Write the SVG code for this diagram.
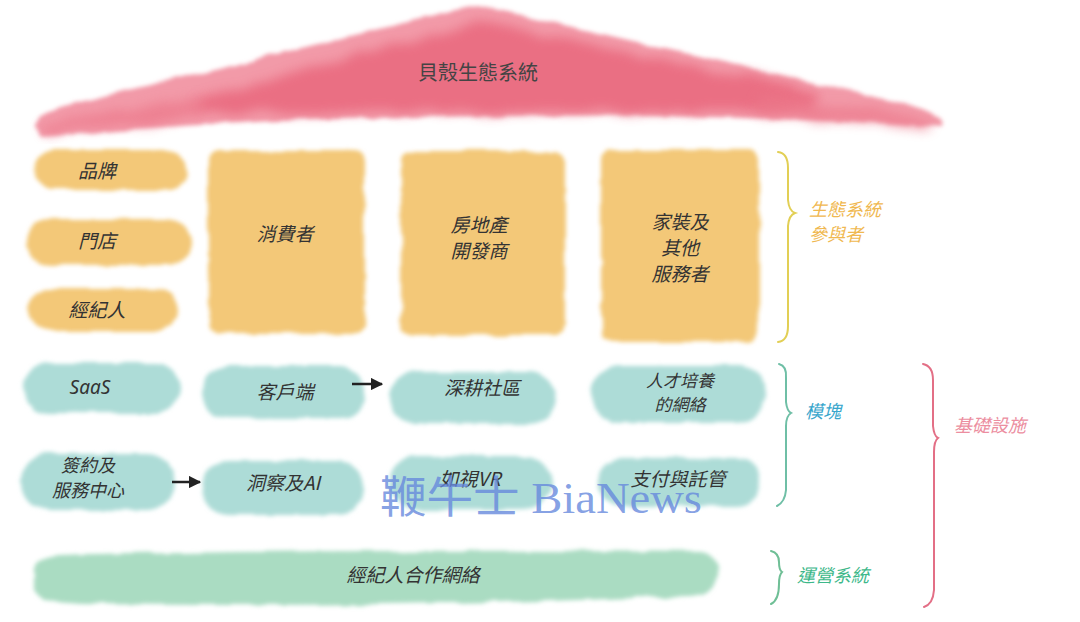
<svg xmlns="http://www.w3.org/2000/svg" width="1080" height="622" viewBox="0 0 1080 622">
  <defs>
    <filter id="wc" x="-10%" y="-20%" width="120%" height="140%">
      <feTurbulence type="fractalNoise" baseFrequency="0.035" numOctaves="3" seed="3" result="n"/>
      <feDisplacementMap in="SourceGraphic" in2="n" scale="7" xChannelSelector="R" yChannelSelector="G" result="d"/>
      <feGaussianBlur in="d" stdDeviation="2"/>
    </filter>
    <filter id="soft" x="-10%" y="-30%" width="120%" height="160%">
      <feTurbulence type="fractalNoise" baseFrequency="0.03" numOctaves="2" seed="7" result="n"/>
      <feDisplacementMap in="SourceGraphic" in2="n" scale="14" xChannelSelector="R" yChannelSelector="G" result="d"/>
      <feGaussianBlur in="d" stdDeviation="6"/>
    </filter>
    <marker id="arr" viewBox="0 0 10 10" refX="9" refY="5" markerWidth="5" markerHeight="5" orient="auto">
      <path d="M0,0 L10,5 L0,10 Z" fill="#222"/>
    </marker>
    <style>
      .t { font-family: "Noto Sans CJK TC", "Noto Sans CJK SC", "Noto Sans", sans-serif; font-style: italic; font-size: 19px; fill: #333; text-anchor: middle; }
      .lbl { font-family: "Noto Sans CJK TC", "Noto Sans CJK SC", sans-serif; font-style: italic; font-size: 18px; text-anchor: start; }
      .yel { fill: #f3c878; }
      .teal { fill: #addcd7; }
      .brace { fill: none; stroke-width: 2; stroke-linecap: round; }
      .arrow { stroke: #222; stroke-width: 2.5; fill: none; marker-end: url(#arr); }
    </style>
  </defs>
  <rect width="1080" height="622" fill="#ffffff"/>

  <!-- roof -->
  <g id="roof">
    <path filter="url(#wc)" fill="#f29aa8" d="M35,126 Q36,112 72,104 L478,5 L905,104 Q946,114 941,128 Q720,112 478,116 Q250,118 42,136 Z"/>
    <path filter="url(#soft)" fill="#e9687d" opacity="0.85" d="M195,100 L478,22 L820,92 L810,112 L480,112 L195,114 Z"/>
    <path filter="url(#soft)" fill="#ec7789" opacity="0.7" d="M40,125 L200,96 L200,118 L45,132 Z M760,95 L935,120 L930,128 L760,116 Z"/>
    <text class="t" x="478" y="80" style="font-style:normal;font-size:20px;fill:#444">貝殼生態系統</text>
  </g>

  <!-- yellow participants -->
  <g id="brand">
    <rect class="yel" filter="url(#wc)" x="34" y="150" width="154" height="40" rx="20"/>
    <text class="t" x="97" y="178">品牌</text>
  </g>
  <g id="store">
    <rect class="yel" filter="url(#wc)" x="26" y="219" width="164" height="46" rx="23"/>
    <text class="t" x="97" y="248">門店</text>
  </g>
  <g id="agent">
    <rect class="yel" filter="url(#wc)" x="28" y="289" width="150" height="42" rx="21"/>
    <text class="t" x="97" y="317">經紀人</text>
  </g>
  <g id="consumer">
    <rect class="yel" filter="url(#wc)" x="208" y="151" width="157" height="182" rx="10"/>
    <text class="t" x="285" y="241">消費者</text>
  </g>
  <g id="developer">
    <rect class="yel" filter="url(#wc)" x="401" y="151" width="164" height="184" rx="10"/>
    <text class="t" x="479" y="232">房地產</text>
    <text class="t" x="479" y="258">開發商</text>
  </g>
  <g id="services">
    <rect class="yel" filter="url(#wc)" x="601" y="150" width="158" height="192" rx="10"/>
    <text class="t" x="680" y="229">家裝及</text>
    <text class="t" x="680" y="255">其他</text>
    <text class="t" x="680" y="281">服務者</text>
  </g>

  <!-- teal modules -->
  <g id="saas">
    <rect class="teal" filter="url(#wc)" x="24" y="363" width="156" height="50" rx="25"/>
    <text class="t" x="90" y="394" style="font-family:'Noto Sans',sans-serif">SaaS</text>
  </g>
  <g id="client">
    <rect class="teal" filter="url(#wc)" x="202" y="366" width="164" height="52" rx="26"/>
    <text class="t" x="285" y="399">客戶端</text>
  </g>
  <g id="community">
    <rect class="teal" filter="url(#wc)" x="389" y="372" width="166" height="52" rx="26"/>
    <text class="t" x="482" y="395">深耕社區</text>
  </g>
  <g id="talent">
    <rect class="teal" filter="url(#wc)" x="592" y="366" width="174" height="56" rx="28"/>
    <text class="t" x="680" y="387" style="font-size:17px">人才培養</text>
    <text class="t" x="680" y="411" style="font-size:17px">的網絡</text>
  </g>
  <g id="contract">
    <rect class="teal" filter="url(#wc)" x="21" y="454" width="154" height="56" rx="28"/>
    <text class="t" x="88" y="472" style="font-size:18px">簽約及</text>
    <text class="t" x="88" y="497" style="font-size:18px">服務中心</text>
  </g>
  <g id="insight">
    <rect class="teal" filter="url(#wc)" x="202" y="461" width="162" height="54" rx="27"/>
    <text class="t" x="283" y="490">洞察及AI</text>
  </g>
  <g id="vr">
    <rect class="teal" filter="url(#wc)" x="390" y="456" width="162" height="54" rx="27"/>
    <text class="t" x="470" y="486">如視VR</text>
  </g>
  <g id="payment">
    <rect class="teal" filter="url(#wc)" x="597" y="458" width="164" height="48" rx="24"/>
    <text class="t" x="678" y="486">支付與託管</text>
  </g>

  <!-- operations band -->
  <g id="network">
    <path fill="#aadcc2" filter="url(#wc)" d="M34,572 Q32,558 60,556 Q300,548 700,552 Q720,556 718,575 Q716,594 690,596 Q400,608 80,604 Q40,602 34,590 Z"/>
    <text class="t" x="413" y="582">經紀人合作網絡</text>
  </g>

  <!-- connectors -->
  <g id="connectors">
    <line class="arrow" x1="352" y1="384" x2="382" y2="384"/>
    <line class="arrow" x1="172" y1="482" x2="200" y2="482"/>
  </g>

  <!-- braces and labels -->
  <g id="brace-participants">
    <path class="brace" stroke="#e2cf55" d="M778,152 Q788,153 788,168 L788,200 Q789,211 795,213 Q789,215 788,226 L788,326 Q788,341 778,342"/>
    <text class="lbl" fill="#f0b850" x="809" y="216">生態系統</text>
    <text class="lbl" fill="#f0b850" x="809" y="241">參與者</text>
  </g>
  <g id="brace-modules">
    <path class="brace" stroke="#6fbfa6" d="M779,364 Q787,366 786,378 L786,402 Q787,411 791,413 Q786,416 786,426 L786,490 Q785,502 777,506"/>
    <text class="lbl" fill="#38a6cc" x="805" y="418">模塊</text>
  </g>
  <g id="brace-ops">
    <path class="brace" stroke="#6fbf96" d="M771,551 Q779,553 779,562 Q779,570 782,572 Q779,575 779,584 Q779,600 771,604"/>
    <text class="lbl" fill="#3db88a" x="797" y="582">運營系統</text>
  </g>
  <g id="brace-infra">
    <path class="brace" stroke="#e36f86" d="M923,364 Q933,366 933,380 L933,426 Q934,436 938,438 Q934,441 934,452 L934,590 Q933,604 924,607"/>
    <text class="lbl" fill="#ec8ea0" x="954" y="432">基礎設施</text>
  </g>

  <!-- watermark -->
  <text x="380" y="513" textLength="322" lengthAdjust="spacingAndGlyphs" fill="#6688dd" fill-opacity="0.8" font-family="'Liberation Serif', 'Noto Sans CJK TC', serif" font-size="44">鞭牛士 BiaNews</text>
</svg>
